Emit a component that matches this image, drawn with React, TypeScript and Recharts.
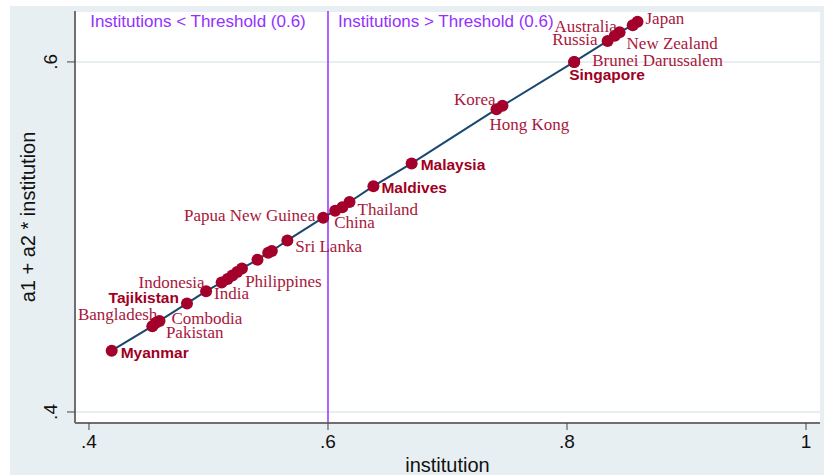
import { ScatterChart, Scatter, XAxis, YAxis, CartesianGrid, ReferenceLine, ReferenceDot, Label } from 'recharts';

const countries = [
  'Myanmar', 'Bangladesh', 'Pakistan', 'Combodia', 'Tajikistan', 'India', 'Indonesia', '', '',
  'Philippines', '', '', '', '', 'Sri Lanka', 'Papua New Guinea', 'China', '', 'Thailand',
  'Maldives', 'Malaysia', 'Korea', 'Hong Kong', 'Singapore', 'Brunei Darussalem', 'Russia',
  'Australia', 'New Zealand', '', 'Japan',
];
const institution = [
  0.419, 0.453, 0.456, 0.459, 0.482, 0.498, 0.511, 0.516, 0.52,
  0.524, 0.528, 0.541, 0.55, 0.553, 0.566, 0.596, 0.606, 0.612, 0.618,
  0.638, 0.67, 0.741, 0.746, 0.806, 0.806, 0.834,
  0.84, 0.844, 0.855, 0.859,
];
const fitted = [
  0.435, 0.449, 0.451, 0.452, 0.462, 0.469, 0.474, 0.476, 0.478,
  0.48, 0.482, 0.487, 0.491, 0.492, 0.498, 0.511, 0.515, 0.517, 0.52,
  0.529, 0.542, 0.573, 0.575, 0.6, 0.6, 0.612,
  0.615, 0.617, 0.621, 0.623,
];
const xTicks = [0.4, 0.6, 0.8, 1];
const yTicks = [0.4, 0.6];
const threshold = 0.6;

// label placement around each marker (offset from centre, anchor)
const LABEL_POS: Record<string, { dx: number; dy: number; anchor: 'start' | 'end'; bold?: boolean }> = {
  Myanmar: { dx: 9, dy: 2, anchor: 'start', bold: true },
  Bangladesh: { dx: 5, dy: -12, anchor: 'end' },
  Pakistan: { dx: 10, dy: 10, anchor: 'start' },
  Combodia: { dx: 12, dy: -2, anchor: 'start' },
  Tajikistan: { dx: -8, dy: -6, anchor: 'end', bold: true },
  India: { dx: 8, dy: 2, anchor: 'start' },
  Indonesia: { dx: -17, dy: 0, anchor: 'end' },
  Philippines: { dx: 8, dy: 10, anchor: 'start' },
  'Sri Lanka': { dx: 8, dy: 6, anchor: 'start' },
  'Papua New Guinea': { dx: -8, dy: -2, anchor: 'end' },
  China: { dx: -1, dy: 12, anchor: 'start' },
  Thailand: { dx: 8, dy: 8, anchor: 'start' },
  Maldives: { dx: 8, dy: 1, anchor: 'start', bold: true },
  Malaysia: { dx: 9, dy: 1, anchor: 'start', bold: true },
  Korea: { dx: -1, dy: -10, anchor: 'end' },
  'Hong Kong': { dx: -13, dy: 19, anchor: 'start' },
  Singapore: { dx: -5, dy: 13, anchor: 'start', bold: true },
  'Brunei Darussalem': { dx: 18, dy: -1, anchor: 'start' },
  Russia: { dx: -10, dy: -1, anchor: 'end' },
  Australia: { dx: 2, dy: -9, anchor: 'end' },
  'New Zealand': { dx: 7, dy: 11, anchor: 'start' },
  Japan: { dx: 8, dy: -3, anchor: 'start' },
};

const data = countries.map((name, i) => ({ name, x: institution[i], y: fitted[i] }));

const MARKER = '#a3002b';
const PURPLE = '#9431ff';
const SANS = 'Arial, "Liberation Sans", Helvetica, sans-serif';
const SERIF = '"Liberation Serif", "Times New Roman", serif';

const fmt = (v: number) => (v === 1 ? '1' : String(v).replace(/^0/, ''));

function PointShape(props: any) {
  const { cx, cy, payload } = props;
  const lab = LABEL_POS[payload.name];
  return (
    <g>
      <circle cx={cx} cy={cy} r={6} fill={MARKER} />
      {lab && (
        <text
          x={cx + lab.dx}
          y={cy + lab.dy}
          textAnchor={lab.anchor}
          dominantBaseline="central"
          fill={lab.bold ? '#a00022' : '#a8173c'}
          fontFamily={lab.bold ? SANS : SERIF}
          fontWeight={lab.bold ? 700 : 400}
          fontSize={lab.bold ? 15.5 : 17}
        >
          {payload.name}
        </text>
      )}
    </g>
  );
}

function YTick(props: any) {
  const { x, y, payload } = props;
  return (
    <text
      transform={`translate(${x - 8},${y}) rotate(-90)`}
      textAnchor="middle"
      fontFamily={SANS}
      fontSize={19}
      fill="#111"
    >
      {fmt(payload.value)}
    </text>
  );
}

const note = (text: string) => (p: any) => (
  <text
    x={p.viewBox.x}
    y={p.viewBox.y}
    dominantBaseline="central"
    fontFamily={SANS}
    fontSize={17}
    fill={PURPLE}
  >
    {text}
  </text>
);

export default function App() {
  return (
    <div style={{ position: 'absolute', left: 0, top: 0, width: 824, height: 475, background: '#fff' }}>
      <div style={{ position: 'absolute', left: 10, top: 6, width: 814, height: 469, background: '#e8eff2' }} />
      <div style={{ position: 'absolute', left: 0, top: 0 }}>
        <ScatterChart width={824} height={475} margin={{ top: 11, right: 4, bottom: 0, left: 0 }}>
          <CartesianGrid fill="#fff" vertical={false} stroke="#e8eff2" strokeWidth={2} />
          <XAxis
            type="number"
            dataKey="x"
            domain={[0.3883, 1.0117]}
            ticks={xTicks}
            tickFormatter={fmt}
            height={52}
            tickSize={7}
            tickMargin={5}
            axisLine={{ stroke: '#6f6f6f', strokeWidth: 2 }}
            tickLine={{ stroke: '#444' }}
            tick={{ fontSize: 19, fill: '#111', fontFamily: SANS }}
          >
            <Label
              content={(p: any) => (
                <text x={p.viewBox.x + p.viewBox.width / 2} y={472} textAnchor="middle" fontFamily={SANS} fontSize={20} fill="#111">
                  institution
                </text>
              )}
            />
          </XAxis>
          <YAxis
            type="number"
            dataKey="y"
            domain={[0.3937, 0.6291]}
            ticks={yTicks}
            width={75}
            tickSize={8}
            tickMargin={2}
            axisLine={{ stroke: '#6f6f6f', strokeWidth: 2 }}
            tickLine={{ stroke: '#444' }}
            tick={<YTick />}
          >
            <Label
              content={(p: any) => {
                const cy = p.viewBox.y + p.viewBox.height / 2;
                return (
                  <text transform={`translate(35,${cy}) rotate(-90)`} textAnchor="middle" fontFamily={SANS} fontSize={20} fill="#111">
                    a1 + a2 * institution
                  </text>
                );
              }}
            />
          </YAxis>
          <ReferenceLine x={threshold} stroke={PURPLE} strokeWidth={1.5} />
          <ReferenceDot x={0.401} y={0.6229} r={0} fill="none" stroke="none" label={{ content: note('Institutions < Threshold (0.6)') }} />
          <ReferenceDot x={0.6084} y={0.6229} r={0} fill="none" stroke="none" label={{ content: note('Institutions > Threshold (0.6)') }} />
          <Scatter
            data={data}
            line={{ stroke: '#1a476f', strokeWidth: 2 }}
            lineJointType="linear"
            shape={<PointShape />}
            isAnimationActive={false}
          />
        </ScatterChart>
      </div>
    </div>
  );
}
